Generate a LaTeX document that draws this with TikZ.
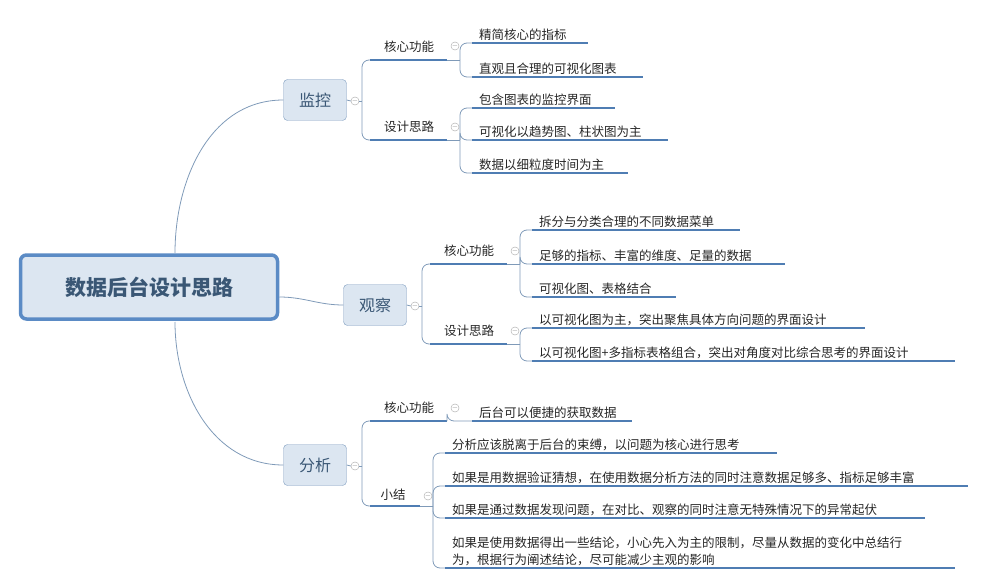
\documentclass[tikz,border=0pt]{standalone}
\usepackage{fontspec}
\setmainfont{Noto Sans CJK SC}
\usetikzlibrary{calc}
\definecolor{boxfill}{HTML}{DCE6F1}
\definecolor{boxline}{HTML}{7F9DC0}
\definecolor{rootline}{HTML}{5B8BC5}
\definecolor{ulcol}{HTML}{4F7DB3}
\definecolor{linkcol}{HTML}{7F9AB8}
\definecolor{roottext}{HTML}{3A5775}

% leaf: name, parent junction, y, x start, x end, text
\newcommand\leaf[6]{%
  \coordinate (#1s) at (#4,#3);
  \coordinate (#1e) at (#5,#3);
  \draw[link, rounded corners=7pt] (#2) |- (#1s);
  \draw[uline] (#1s) -- (#1e);
  \node[leaftext, anchor=south west] (#1) at ($(#1s)+(6,-1)$) {#6};
}

\begin{document}
\begin{tikzpicture}[
      x=1pt, y=-1pt,
      every node/.style={
        font=\fontsize{12.5}{17}\selectfont,
        text=black!85,
      },
      rootbox/.style={
        draw=rootline,
        line width=3.5pt,
        fill=boxfill,
        rounded corners=6pt,
        minimum width=257pt,
        minimum height=64pt,
        font=\fontsize{21}{21}\selectfont\bfseries,
        text=roottext,
      },
      mainbox/.style={
        draw=boxline,
        fill=boxfill,
        rounded corners=4pt,
        minimum width=63pt,
        minimum height=41pt,
        font=\fontsize{16}{16}\selectfont,
        text=roottext,
      },
      subtext/.style={inner sep=1pt},
      leaftext/.style={inner sep=1pt, align=left},
      fold/.style={
        circle,
        draw=gray!70,
        minimum size=8pt,
        inner sep=0pt,
        font=\fontsize{7}{7}\selectfont,
        text=gray,
      },
      link/.style={draw=linkcol, line width=0.8pt},
      uline/.style={draw=ulcol, line width=2.2pt},
    ]
    \useasboundingbox (0,0) rectangle (984,585);

    \node[rootbox] (root) at (149,287) {数据后台设计思路};

    \node[mainbox] (jk) at (315,100) {监控};
    \node[mainbox] (gc) at (375,305) {观察};
    \node[mainbox] (fx) at (315,465) {分析};

    \draw[link] (175,253) to[out=90, in=180] (jk.west);
    \draw[link] (root.east |- 297,297) to[out=0, in=180] (gc.west);
    \draw[link] (175,322) to[out=-90, in=180] (fx.west);

    \node[fold] (jkf) at (355,101) {$-$};
    \node[fold] (gcf) at (415,306) {$-$};
    \node[fold] (fxf) at (355,466) {$-$};
    \draw[link] (jk.east) -- (jkf.west);
    \draw[link] (gc.east) -- (gcf.west);
    \draw[link] (fx.east) -- (fxf.west);
    \coordinate (jkj) at (362,101);
    \coordinate (gcj) at (422,306);
    \coordinate (fxj) at (362,466);
    \draw[link] (jkf.east) -- (jkj);
    \draw[link] (gcf.east) -- (gcj);
    \draw[link] (fxf.east) -- (fxj);

    %% 监控
    \leaf{jkhx}{jkj}{60}{370}{447}{}
    \node[subtext] at (409,47) {核心功能};
    \node[fold] (jkhxf) at (455,46) {$-$};
    \coordinate (jkhxj) at (460,60);
    \draw[link] (jkhxe) -- (jkhxj);
    \leaf{jka}{jkhxj}{43}{472}{588}{精简核心的指标}
    \leaf{jkb}{jkhxj}{77}{472}{643}{直观且合理的可视化图表}

    \leaf{jksj}{jkj}{140}{370}{447}{}
    \node[subtext] at (409,127) {设计思路};
    \node[fold] (jksjf) at (455,127) {$-$};
    \coordinate (jksjj) at (460,140);
    \draw[link] (jksje) -- (jksjj);
    \leaf{jkc}{jksjj}{108}{472}{615}{包含图表的监控界面}
    \leaf{jkd}{jksjj}{140}{472}{668}{可视化以趋势图、柱状图为主}
    \leaf{jke}{jksjj}{173}{472}{628}{数据以细粒度时间为主}

    %% 观察
    \leaf{gchx}{gcj}{264}{430}{507}{}
    \node[subtext] at (469,251) {核心功能};
    \node[fold] (gchxf) at (515,251) {$-$};
    \coordinate (gchxj) at (520,264);
    \draw[link] (gchxe) -- (gchxj);
    \leaf{gca}{gchxj}{230}{532}{740}{拆分与分类合理的不同数据菜单}
    \leaf{gcb}{gchxj}{264}{532}{785}{足够的指标、丰富的维度、足量的数据}
    \leaf{gcc}{gchxj}{297}{532}{676}{可视化图、表格结合}

    \leaf{gcsj}{gcj}{344}{430}{507}{}
    \node[subtext] at (469,331) {设计思路};
    \node[fold] (gcsjf) at (515,331) {$-$};
    \coordinate (gcsjj) at (520,344);
    \draw[link] (gcsje) -- (gcsjj);
    \leaf{gcd}{gcsjj}{328}{532}{865}{以可视化图为主，突出聚焦具体方向问题的界面设计}
    \leaf{gce}{gcsjj}{361}{532}{955}{以可视化图+多指标表格组合，突出对角度对比综合思考的界面设计}

    %% 分析
    \leaf{fxhx}{fxj}{421}{370}{447}{}
    \node[subtext] at (409,408) {核心功能};
    \node[fold] (fxhxf) at (455,408) {$-$};
    \leaf{fxa}{fxhxe}{421}{472}{632}{后台可以便捷的获取数据}

    \leaf{fxxj}{fxj}{506}{370}{420}{}
    \node[subtext] at (393,495) {小结};
    \node[fold] (fxxjf) at (428,496) {$-$};
    \coordinate (fxxjj) at (433,506);
    \draw[link] (fxxje) -- (fxxjj);
    \leaf{fxb}{fxxjj}{453}{445}{777}{分析应该脱离于后台的束缚，以问题为核心进行思考}
    \leaf{fxc}{fxxjj}{486}{445}{968}{如果是用数据验证猜想，在使用数据分析方法的同时注意数据足够多、指标足够丰富}
    \leaf{fxd}{fxxjj}{518}{445}{925}{如果是通过数据发现问题，在对比、观察的同时注意无特殊情况下的异常起伏}
    \leaf{fxe}{fxxjj}{568}{445}{955}{如果是使用数据得出一些结论，小心先入为主的限制，尽量从数据的变化中总结行\\为，根据行为阐述结论，尽可能减少主观的影响}
  \end{tikzpicture}
\end{document}
